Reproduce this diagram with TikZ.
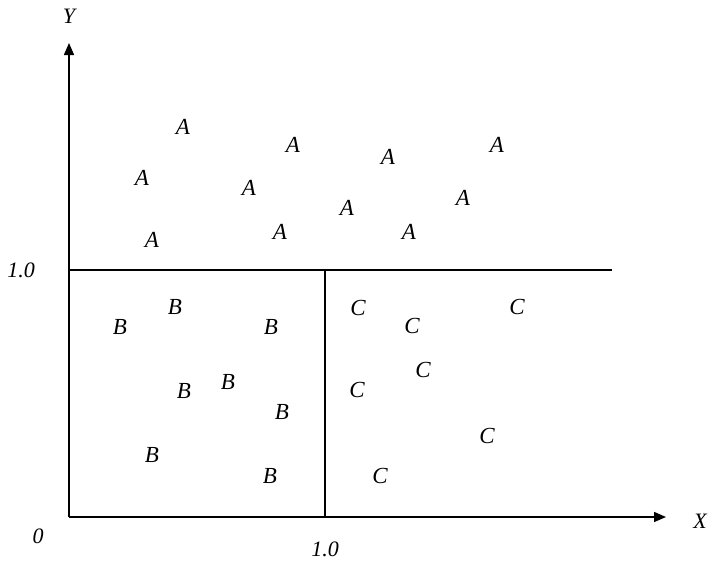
\documentclass[tikz,border=0pt]{standalone}
\usepackage{fontspec}
\setmainfont{Liberation Serif}
\usetikzlibrary{arrows.meta}

\begin{document}
\begin{tikzpicture}[
    x=1pt, y=-1pt,
    pt/.style={
        font=\fontsize{23}{27}\selectfont\itshape,
        inner sep=0pt
    },
    axislabel/.style={
        font=\fontsize{22}{26}\selectfont\itshape,
        inner sep=0pt
    },
    axis/.style={-{Triangle[length=12pt, width=10pt]}, line width=1.5pt},
    border/.style={line width=1.5pt}
]
\useasboundingbox (0,0) rectangle (709,566);

\coordinate (origin) at (69,517);
\coordinate (ytip) at (69,43);
\coordinate (xtip) at (666,517);
\coordinate (yone) at (69,270);
\coordinate (lineend) at (612,270);
\coordinate (xone) at (325,517);
\coordinate (cross) at (325,270);

\draw[axis] (origin) -- (ytip);
\draw[axis] (origin) -- (xtip);
\draw[border] (yone) -- (lineend);
\draw[border] (xone) -- (cross);

\node[axislabel] (ylab) at (69,16) {Y};
\node[axislabel] (xlab) at (700,521) {X};
\node[axislabel] (zero) at (38,536) {0};
\node[axislabel] (yval) at (21,270) {1.0};
\node[axislabel] (xval) at (325,549) {1.0};

\node[pt] (a1) at (183,127) {A};
\node[pt] (a2) at (293,145) {A};
\node[pt] (a3) at (388,157) {A};
\node[pt] (a4) at (497,145) {A};
\node[pt] (a5) at (142,178) {A};
\node[pt] (a6) at (249,188) {A};
\node[pt] (a7) at (347,208) {A};
\node[pt] (a8) at (463,198) {A};
\node[pt] (a9) at (152,240) {A};
\node[pt] (a10) at (280,232) {A};
\node[pt] (a11) at (409,232) {A};

\node[pt] (b1) at (175,307) {B};
\node[pt] (b2) at (120,327) {B};
\node[pt] (b3) at (271,327) {B};
\node[pt] (b4) at (184,391) {B};
\node[pt] (b5) at (228,382) {B};
\node[pt] (b6) at (282,412) {B};
\node[pt] (b7) at (152,455) {B};
\node[pt] (b8) at (270,476) {B};

\node[pt] (c1) at (358,308) {C};
\node[pt] (c2) at (412,326) {C};
\node[pt] (c3) at (517,307) {C};
\node[pt] (c4) at (357,390) {C};
\node[pt] (c5) at (423,370) {C};
\node[pt] (c6) at (487,436) {C};
\node[pt] (c7) at (380,476) {C};
\end{tikzpicture}
\end{document}
